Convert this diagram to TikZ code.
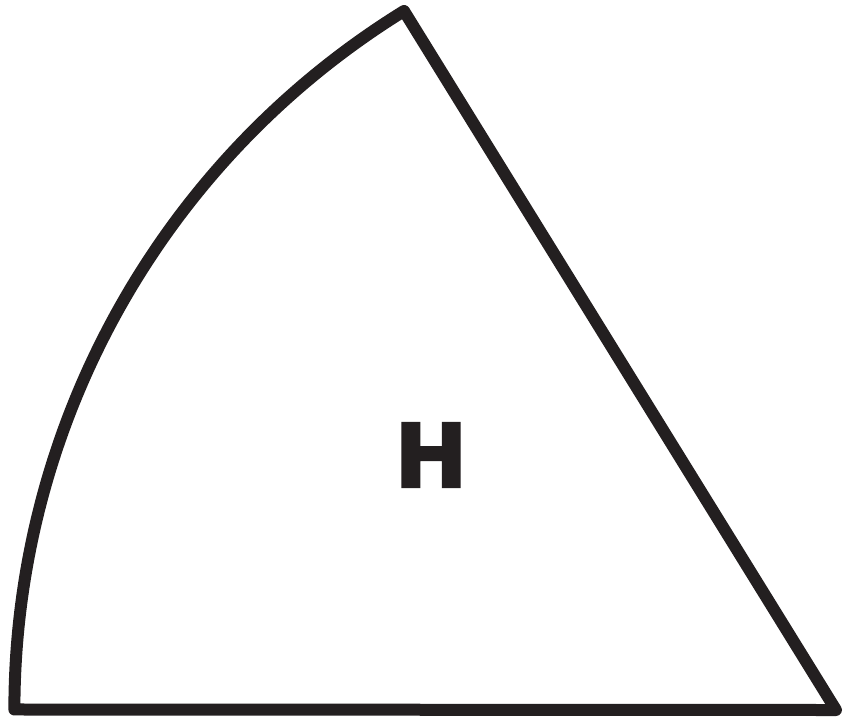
\documentclass[tikz,border=0pt]{standalone}
\usepackage{fontspec}
\newfontfamily\labelfont[FakeBold=3]{DejaVu Sans Bold}
\definecolor{ink}{HTML}{231F20}

\begin{document}
\begin{tikzpicture}[x=1pt,y=1pt,
  sector/.style={draw=ink,line width=12pt,line join=round,line cap=round},
  letter/.style={inner sep=0pt,text=ink,font=\labelfont\fontsize{87}{87}\selectfont}]
  \useasboundingbox (0,0) rectangle (846,-721);
  % corners of the sector, centre at bottom right
  \coordinate (centre) at (836,-710);
  \coordinate (apex) at (404,-11);
  \coordinate (foot) at (15,-710);
  \draw[sector] (centre) -- (apex)
    arc[start angle=121.7,end angle=180,radius=821] -- cycle;
  \node[letter] (lbl) at (431,-455) {H};
\end{tikzpicture}
\end{document}
